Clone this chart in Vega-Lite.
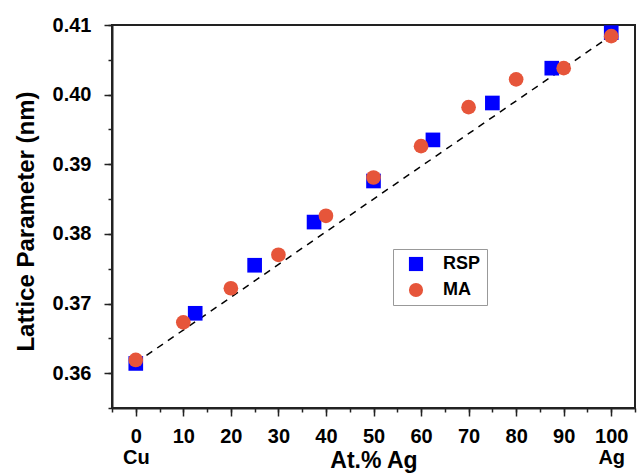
{
  "$schema": "https://vega.github.io/schema/vega-lite/v6.json",
  "width": 523,
  "height": 383,
  "autosize": "none",
  "padding": {"left": 112, "top": 25, "right": 4, "bottom": 68},
  "background": "white",
  "config": {
    "view": {"stroke": "#222", "strokeWidth": 2},
    "font": "Liberation Sans",
    "axis": {"grid": false, "domainColor": "#222", "tickColor": "#222", "labelColor": "black", "titleColor": "black"}
  },
  "datasets": {
    "pts": [
      {"at": 0, "a": 0.3614, "s": "RSP"},
      {"at": 12.5, "a": 0.3686, "s": "RSP"},
      {"at": 25, "a": 0.3755, "s": "RSP"},
      {"at": 37.5, "a": 0.3817, "s": "RSP"},
      {"at": 50, "a": 0.3876, "s": "RSP"},
      {"at": 62.5, "a": 0.3935, "s": "RSP"},
      {"at": 75, "a": 0.3988, "s": "RSP"},
      {"at": 87.5, "a": 0.4038, "s": "RSP"},
      {"at": 100, "a": 0.4089, "s": "RSP"},
      {"at": 0, "a": 0.3619, "s": "MA"},
      {"at": 10, "a": 0.3673, "s": "MA"},
      {"at": 20, "a": 0.3722, "s": "MA"},
      {"at": 30, "a": 0.3770, "s": "MA"},
      {"at": 40, "a": 0.3826, "s": "MA"},
      {"at": 50, "a": 0.3881, "s": "MA"},
      {"at": 60, "a": 0.3926, "s": "MA"},
      {"at": 70, "a": 0.3982, "s": "MA"},
      {"at": 80, "a": 0.4022, "s": "MA"},
      {"at": 90, "a": 0.4038, "s": "MA"},
      {"at": 100, "a": 0.4084, "s": "MA"}
    ],
    "fit": [
      {"at": 0, "a": 0.3615},
      {"at": 100, "a": 0.4085}
    ]
  },
  "layer": [
    {
      "data": {"name": "fit"},
      "mark": {"type": "line", "color": "black", "strokeDash": [7, 6], "strokeWidth": 1.5},
      "encoding": {
        "x": {
          "field": "at", "type": "quantitative",
          "scale": {"domain": [-5, 105], "nice": false, "zero": false},
          "axis": {"orient": "bottom", "values": [-5,0,5,10,15,20,25,30,35,40,45,50,55,60,65,70,75,80,85,90,95,100,105], "labels": false, "domain": false, "tickSize": 4, "tickWidth": 1.5, "title": null}
        },
        "y": {
          "field": "a", "type": "quantitative",
          "scale": {"domain": [0.355, 0.41], "nice": false, "zero": false},
          "axis": {"orient": "left", "values": [0.355,0.36,0.365,0.37,0.375,0.38,0.385,0.39,0.395,0.4,0.405,0.41], "labels": false, "domain": false, "tickSize": 4, "tickWidth": 1.5, "title": null}
        }
      }
    },
    {
      "data": {"name": "pts"},
      "mark": {"type": "point", "filled": true, "opacity": 1, "size": 215},
      "encoding": {
        "x": {
          "field": "at", "type": "quantitative",
          "scale": {"domain": [-5, 105], "nice": false, "zero": false},
          "axis": {
            "orient": "bottom",
            "values": [0,10,20,30,40,50,60,70,80,90,100],
            "labelExpr": "datum.value == 0 ? ['0','Cu'] : datum.value == 100 ? ['100','Ag'] : datum.label",
            "labelLineHeight": 21,
            "labelFontSize": 20, "labelFontWeight": "bold",
            "labelOverlap": false, "labelFlush": false,
            "labelPadding": 10,
            "tickSize": 8, "tickWidth": 1.5,
            "domainWidth": 2,
            "title": "At.% Ag", "titleFontSize": 23, "titleFontWeight": "bold",
            "titleY": 59, "titleBaseline": "alphabetic"
          }
        },
        "y": {
          "field": "a", "type": "quantitative",
          "scale": {"domain": [0.355, 0.41], "nice": false, "zero": false},
          "axis": {
            "orient": "left",
            "values": [0.36,0.37,0.38,0.39,0.4,0.41],
            "format": ".2f",
            "labelFontSize": 20, "labelFontWeight": "bold",
            "labelOverlap": false, "labelFlush": false,
            "labelPadding": 13,
            "tickSize": 8, "tickWidth": 1.5,
            "domainWidth": 2,
            "title": "Lattice Parameter (nm)", "titleFontSize": 24, "titleFontWeight": "bold",
            "titleX": -79, "titleY": 196, "titleBaseline": "alphabetic", "titleAngle": -90
          }
        },
        "color": {
          "field": "s", "type": "nominal",
          "scale": {"domain": ["RSP", "MA"], "range": ["#0000FF", "#E6553A"]},
          "legend": {
            "title": null, "orient": "none", "legendX": 281, "legendY": 224,
            "strokeColor": "#999", "fillColor": "white", "padding": 6,
            "symbolOffset": 8, "symbolSize": 200, "symbolStrokeWidth": 0,
            "labelFontSize": 18, "labelFontWeight": "bold", "labelColor": "black",
            "labelOffset": 18, "rowPadding": 8
          }
        },
        "shape": {
          "field": "s", "type": "nominal",
          "scale": {"domain": ["RSP", "MA"], "range": ["square", "circle"]},
          "legend": {
            "title": null, "orient": "none", "legendX": 281, "legendY": 224,
            "strokeColor": "#999", "fillColor": "white", "padding": 6,
            "symbolOffset": 8, "symbolSize": 200, "symbolStrokeWidth": 0,
            "labelFontSize": 18, "labelFontWeight": "bold", "labelColor": "black",
            "labelOffset": 18, "rowPadding": 8
          }
        }
      }
    }
  ],
  "resolve": {"axis": {"x": "independent", "y": "independent"}}
}
